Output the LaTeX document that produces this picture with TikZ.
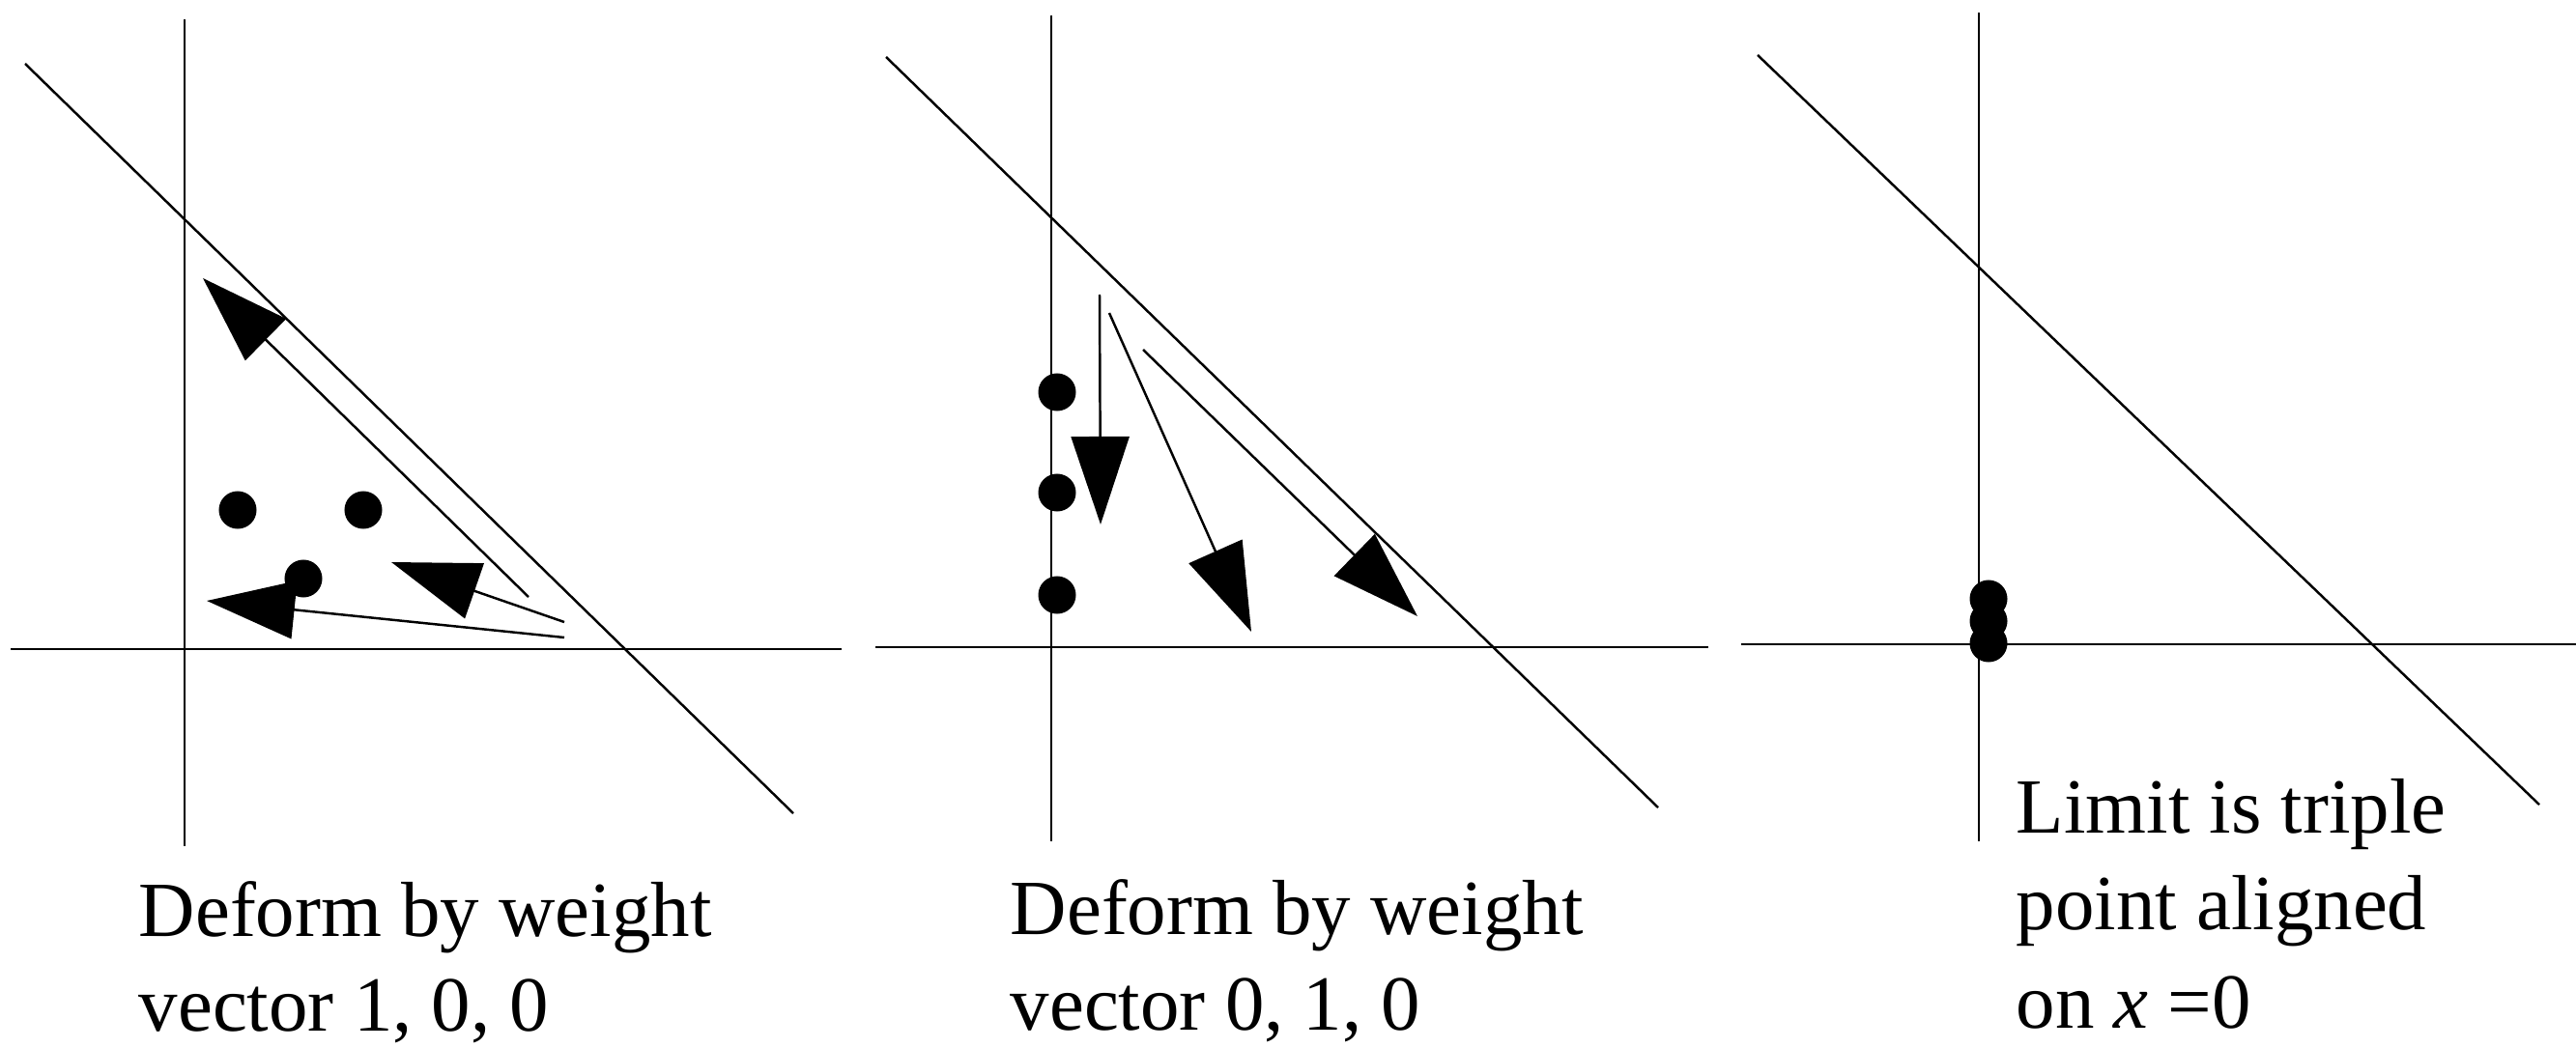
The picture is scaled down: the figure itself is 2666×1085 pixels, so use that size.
\documentclass[tikz,border=0pt]{standalone}
\usepackage{fontspec}
\setmainfont{Liberation Serif}
\usetikzlibrary{arrows.meta}
\begin{document}
\begin{tikzpicture}[x=0.01cm,y=-0.01cm,
    trait/.style={line width=0.7pt},
    fleche/.style={line width=0.7pt,-{Triangle[length=0.91cm,width=0.6cm]}},
    point/.style={circle,fill,inner sep=0pt,minimum size=0.39cm},
    legende/.style={anchor=base west,inner sep=0pt,font=\fontsize{23pt}{28pt}\selectfont}]
    \useasboundingbox (0,0) rectangle (2666,1085); % cadre de l'image

    % Premier dessin : poids 1, 0, 0
    \draw[trait] (191,20) -- (191,876); % axe vertical
    \draw[trait] (11,672) -- (871,672); % axe horizontal
    \draw[trait] (26,66) -- (821,842); % droite oblique
    \node[point] (a1) at (246,528) {};
    \node[point] (a2) at (376,528) {};
    \node[point] (a3) at (314,599) {};
    \coordinate (d1) at (547,618); \coordinate (f1) at (210,288);
    \coordinate (d2) at (584,644); \coordinate (f2) at (405,582);
    \coordinate (d3) at (584,660); \coordinate (f3) at (214,622);
    \draw[fleche] (d1) -- (f1);
    \draw[fleche] (d2) -- (f2);
    \draw[fleche] (d3) -- (f3);
    \node[legende] (l1) at (143,969) {Deform by weight};
    \node[legende] (l2) at (143,1067) {vector 1, 0, 0};

    % Deuxieme dessin : poids 0, 1, 0
    \draw[trait] (1088,16) -- (1088,871);
    \draw[trait] (906,670) -- (1768,670);
    \draw[trait] (917,59) -- (1716,836);
    \node[point] (b1) at (1094,406) {};
    \node[point] (b2) at (1094,510) {};
    \node[point] (b3) at (1094,616) {};
    \coordinate (d4) at (1138,305); \coordinate (f4) at (1139,543);
    \coordinate (d5) at (1148,324); \coordinate (f5) at (1295,654);
    \coordinate (d6) at (1183,362); \coordinate (f6) at (1467,638);
    \draw[fleche] (d4) -- (f4);
    \draw[fleche] (d5) -- (f5);
    \draw[fleche] (d6) -- (f6);
    \node[legende] (l3) at (1045,967) {Deform by weight};
    \node[legende] (l4) at (1045,1066) {vector 0, 1, 0};

    % Troisieme dessin : la limite
    \draw[trait] (2048,13) -- (2048,871);
    \draw[trait] (1802,667) -- (2666,667);
    \draw[trait] (1819,57) -- (2628,833);
    \node[point] (c1) at (2058,620) {};
    \node[point] (c2) at (2058,643) {};
    \node[point] (c3) at (2058,666) {};
    \node[legende] (l5) at (2086,862) {Limit is triple};
    \node[legende] (l6) at (2086,962) {point aligned};
    \node[legende] (l7) at (2086,1064) {on \textit{x} =0};
\end{tikzpicture}
\end{document}
